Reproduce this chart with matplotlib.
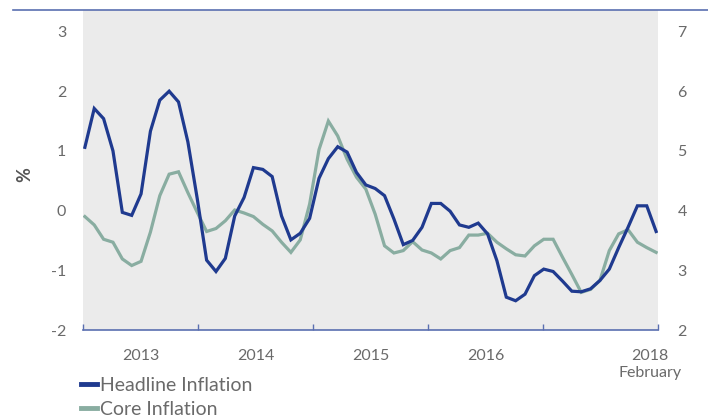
import numpy as np
import matplotlib
matplotlib.use('Agg')
import matplotlib.pyplot as plt
from matplotlib.lines import Line2D

plt.rcParams['font.family'] = ['Lato', 'DejaVu Sans']
plt.rcParams['axes.unicode_minus'] = False

# Monthly values, Jan 2013 - Feb 2018
headline = [1.06, 1.71, 1.54, 1.00, -0.03, -0.08, 0.28, 1.33, 1.85, 2.00,
            1.82, 1.15, 0.20, -0.83, -1.02, -0.80, -0.09, 0.22, 0.72, 0.69,
            0.57, -0.09, -0.49, -0.38, -0.13, 0.54, 0.87, 1.07, 0.98, 0.64,
            0.43, 0.37, 0.25, -0.14, -0.57, -0.50, -0.28, 0.12, 0.12, -0.01,
            -0.24, -0.28, -0.21, -0.39, -0.84, -1.45, -1.51, -1.40, -1.09, -0.98,
            -1.02, -1.18, -1.35, -1.36, -1.31, -1.17, -0.98, -0.62, -0.28, 0.08,
            0.08, -0.35]
# core inflation, right axis
core = [3.90, 3.76, 3.52, 3.47, 3.19, 3.08, 3.15, 3.64, 4.25, 4.61,
        4.65, 4.30, 3.97, 3.65, 3.70, 3.83, 4.01, 3.96, 3.90, 3.77,
        3.66, 3.47, 3.30, 3.51, 4.11, 5.02, 5.50, 5.25, 4.86, 4.56,
        4.36, 3.94, 3.41, 3.29, 3.33, 3.48, 3.34, 3.29, 3.19, 3.33,
        3.38, 3.59, 3.59, 3.62, 3.47, 3.36, 3.26, 3.24, 3.41, 3.52,
        3.52, 3.22, 2.93, 2.63, 2.68, 2.83, 3.33, 3.61, 3.68, 3.47,
        3.38, 3.30]
year_labels = ['2013', '2014', '2015', '2016']
last_label = '2018\nFebruary'
left_ticks = [-2, -1, 0, 1, 2, 3]
right_ticks = [2, 3, 4, 5, 6, 7]

blue = '#1f3a8f'
green = '#89ada1'
axis_blue = '#5a6fb0'
grey_txt = '#6a6a6a'

x = np.arange(len(headline))
xmin, xmax = -0.2, 61.2

fig = plt.figure(figsize=(7.08, 4.2), dpi=100)
ax = fig.add_axes([83/708, 1-330/420, 575/708, 320/420])
ax2 = ax.twinx()

ax2.plot(x, core, color=green, lw=2.3, solid_joinstyle='miter')
ax.plot(x, headline, color=blue, lw=2.3, solid_joinstyle='miter')

ax.set_zorder(ax2.get_zorder() + 1)
ax.patch.set_visible(False)
ax2.patch.set_visible(True)
ax2.set_facecolor('#ebebeb')

ax.set_xlim(xmin, xmax)
ax.set_ylim(-2, 3.36)
ax2.set_ylim(2, 7.36)

for a in (ax, ax2):
    for s in a.spines.values():
        s.set_visible(False)
ax.spines['bottom'].set_visible(True)
ax.spines['bottom'].set_color(axis_blue)
ax.spines['bottom'].set_linewidth(1.2)

ax.set_yticks(left_ticks)
ax2.set_yticks(right_ticks)
ax.tick_params(axis='y', length=0, pad=12, labelsize=11.5, labelcolor=grey_txt)
ax2.tick_params(axis='y', length=0, pad=14, labelsize=11.5, labelcolor=grey_txt)

edges = np.linspace(xmin, xmax, 6)
ax.set_xticks(edges)
ax.set_xticklabels([])
ax.tick_params(axis='x', which='major', direction='in', length=4,
               color=axis_blue, width=1)
mids = list((edges[:-1] + edges[1:]) / 2)[:4] + [60.3]
ax.set_xticks(mids, minor=True)
ax.set_xticklabels(year_labels + [last_label], minor=True)
ax.tick_params(axis='x', which='minor', length=0, pad=14, labelsize=11.5,
               labelcolor=grey_txt)
for lab in ax.get_xticklabels(minor=True):
    lab.set_linespacing(1.2)

fig.text(25/708, 1-175/420, '%', rotation=90, ha='center', va='center',
         fontsize=13, fontweight='bold', color='#555555')

# rule across the top
fig.add_artist(Line2D([13/708, 1], [1-10/420, 1-10/420], color=axis_blue,
                      lw=1.2, transform=fig.transFigure))

handles = [Line2D([], [], color=blue, lw=3.5),
           Line2D([], [], color=green, lw=3.5)]
leg = fig.legend(handles, ['Headline Inflation', 'Core Inflation'],
                 loc='upper left', bbox_to_anchor=(81/708, 1-377/420),
                 frameon=False, fontsize=14, handlelength=0.8,
                 handletextpad=0.2, labelspacing=0.37, borderpad=0,
                 borderaxespad=0)
for t in leg.get_texts():
    t.set_color(grey_txt)

fig.savefig('out.png', dpi=100)
